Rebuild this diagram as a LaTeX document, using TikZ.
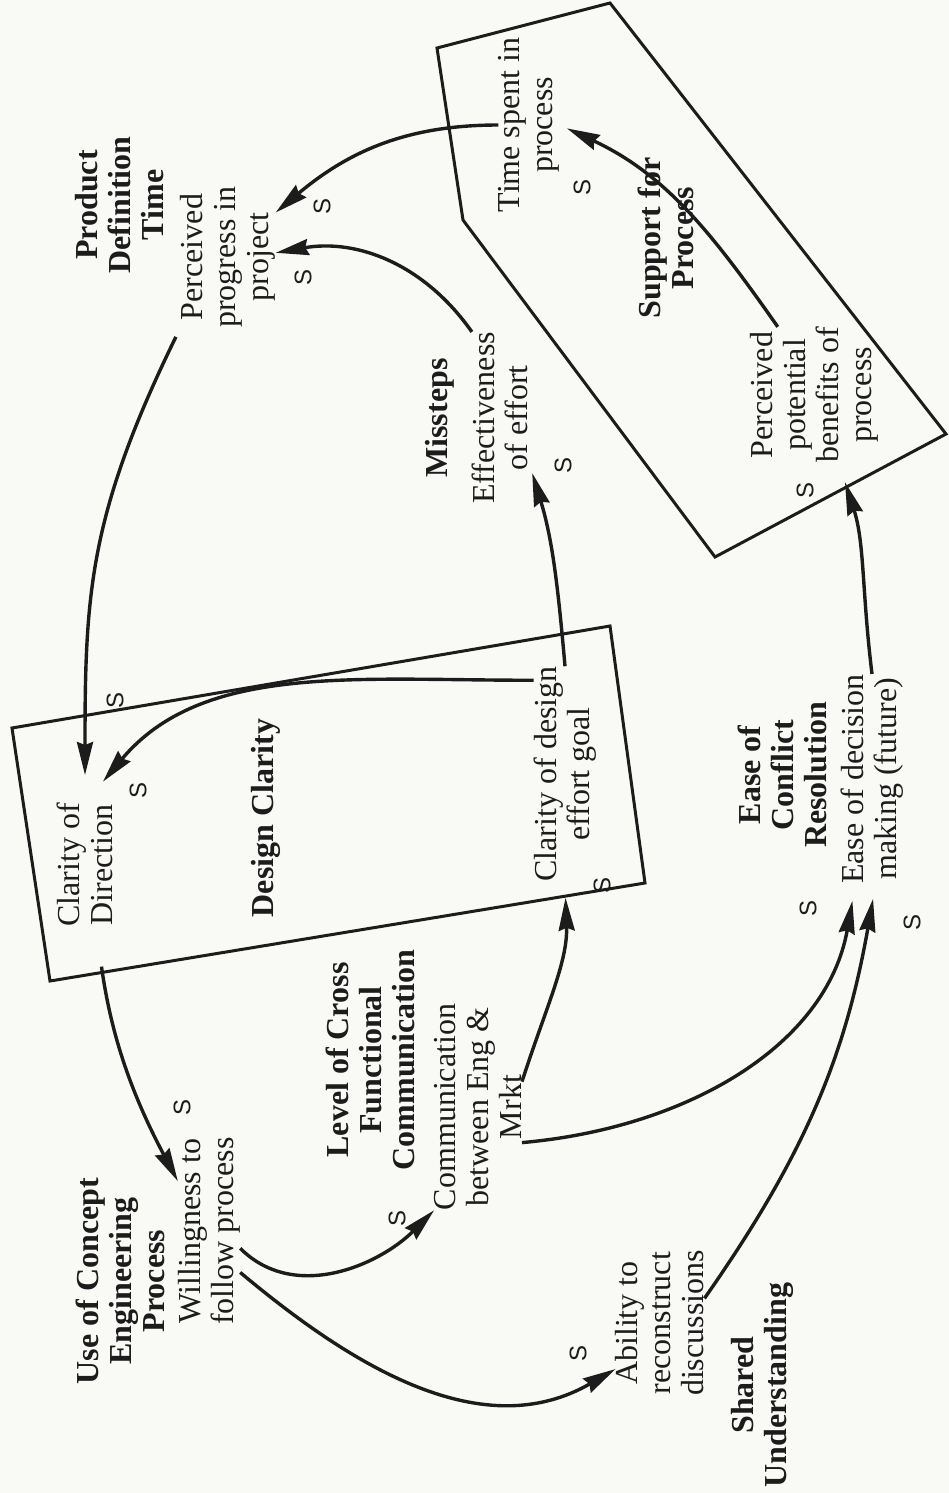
\documentclass[tikz,border=0pt]{standalone}
\usepackage{fontspec}
\setmainfont{Liberation Serif}
\setsansfont{Liberation Sans}
\usetikzlibrary{arrows.meta}
\definecolor{paper}{RGB}{249,249,246}
\definecolor{ink}{RGB}{28,28,28}

\begin{document}
\begin{tikzpicture}[
        x=1pt, y=-1pt,
        % every text runs bottom-to-top, as on the scanned page
        varname/.style={rotate=90, align=center, inner sep=0pt, text=ink,
            font=\fontsize{32}{33}\selectfont},
        heading/.style={varname, font=\fontsize{32}{33}\selectfont\bfseries},
        pol/.style={rotate=90, inner sep=0pt, text=ink,
            font=\sffamily\fontsize{24}{24}\selectfont},
        link/.style={-{Stealth[length=33pt, width=16pt, inset=3pt]},
            line width=3.4pt, draw=ink},
        group/.style={line width=3pt, draw=ink}
    ]
    \fill[paper] (0,0) rectangle (949,1493);
    \useasboundingbox (0,0) rectangle (949,1493);

    % Groups
    \draw[group] (12,728) -- (610,626) -- (645,883) -- (50,981) -- cycle;
    \draw[group] (610,3) -- (437,48) -- (463,220) -- (715,557) -- (946,434) -- cycle;

    % Variables and their headings
    \node[heading] (pdt) at (120,205) {Product\\Definition\\Time};
    \node[varname] (progress) at (228,257) {Perceived\\progress in\\project};
    \node[heading] (miss) at (440,418) {Missteps};
    \node[varname] (effect) at (500,418) {Effectiveness\\of effort};
    \node[varname] (tsp) at (529,125) {Time spent in\\process};
    \node[heading] (supp) at (666,238) {Support for\\Process};
    \node[varname] (ppb) at (814,395) {Perceived\\potential\\benefits of\\process};
    \node[varname] (clardir) at (85,865) {Clarity of\\Direction};
    \node[heading] (dclar) at (266,818) {Design Clarity};
    \node[varname] (clardes) at (565,774) {Clarity of design\\effort goal};
    \node[heading] (ecr) at (782,775) {Ease of\\Conflict\\Resolution};
    \node[varname] (ease) at (872,779) {Ease of decision\\making (future)};
    \node[heading] (lcf) at (370,1060) {Level of Cross\\Functional\\Communication};
    \node[varname] (comm) at (478,1107) {Communication\\between Eng \&\\Mrkt};
    \node[heading] (ucep) at (120,1281) {Use of Concept\\Engineering\\Process};
    \node[varname] (will) at (209,1231) {Willingness to\\follow process};
    \node[varname] (abil) at (660,1323) {Ability to\\reconstruct\\discussions};
    \node[heading] (shu) at (762,1385) {Shared\\Understanding};

    % Links
    \draw[link] (tsp.north) to[out=180, in=40] (progress.313);
    \draw[link] (effect.north east) to[out=125, in=10] (progress.275);
    \draw[link, shorten <=10pt, shorten >=28pt] (progress.north west) to[out=244, in=90, looseness=1.1] (clardir.east);
    \draw[link, shorten >=28pt] ([yshift=-14pt]clardes.north east) to[out=180, in=50] (clardir.east);
    \draw[link, shorten >=14pt] (clardes.east) to[out=95, in=-73] (effect.214);
    \draw[link, shorten >=8pt] (ppb.28) to[out=125, in=-25] (tsp.south);
    \draw[link, shorten >=20pt] (ease.east) to[out=97, in=-72] (ppb.200);
    \draw[link, shorten <=40pt] (clardir.190) to[out=-82, in=118] (will.32);
    \draw[link] (will.241) to[out=-45, in=-135] (comm.north west);
    \draw[link] (will.217) to[out=-40, in=-150] (abil.136);
    \draw[link, shorten >=16pt] (comm.300) to[out=72, in=-88] (clardes.west);
    \draw[link, shorten >=17pt] (comm.231) to[out=5, in=-100] (ease.171);
    \draw[link, shorten >=15pt] (abil.299) to[out=55, in=-100] (ease.182);

    % Polarities
    \node[pol] (s1) at (322,206) {S};
    \node[pol] (s2) at (303,277) {S};
    \node[pol] (s3) at (582,187) {S};
    \node[pol] (s4) at (563,465) {S};
    \node[pol] (s5) at (805,490) {S};
    \node[pol] (s6) at (115,700) {S};
    \node[pol] (s7) at (138,790) {S};
    \node[pol] (s8) at (602,885) {S};
    \node[pol] (s9) at (808,908) {S};
    \node[pol] (s10) at (912,922) {S};
    \node[pol] (s11) at (182,1107) {S};
    \node[pol] (s12) at (397,1218) {S};
    \node[pol] (s13) at (578,1353) {S};
\end{tikzpicture}
\end{document}
